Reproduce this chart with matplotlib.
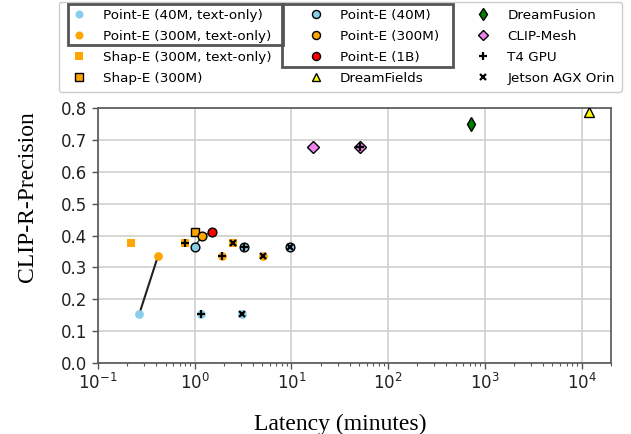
import matplotlib
matplotlib.use("Agg")
import matplotlib.pyplot as plt
from matplotlib.lines import Line2D
from matplotlib.patches import Rectangle

# ---------------- data ----------------
# latency (minutes) and CLIP-R-Precision per method; device: base / T4 GPU / Jetson AGX Orin
pe40_txt_lat = [0.267, 1.15, 3.1]
pe40_txt_clip = [0.153, 0.153, 0.153]
pe300_txt_lat = [0.418, 1.9, 5.14]
pe300_txt_clip = [0.336, 0.336, 0.336]
se300_txt_lat = [0.217, 0.79, 2.48]
se300_txt_clip = [0.377, 0.377, 0.377]
se300_lat = [1.0]
se300_clip = [0.41]
pe40_lat = [1.0, 3.22, 9.7]
pe40_clip = [0.365, 0.365, 0.365]
pe300_lat = [1.2]
pe300_clip = [0.40]
pe1b_lat = [1.51]
pe1b_clip = [0.41]
dreamfields_lat = [11800]
dreamfields_clip = [0.787]
dreamfusion_lat = [713]
dreamfusion_clip = [0.751]
clipmesh_lat = [16.6, 51.4]
clipmesh_clip = [0.679, 0.679]
# device of each point (index-aligned with the arrays above)
dev3 = ["base", "T4", "Jetson"]
dev_clipmesh = ["base", "T4"]

xticks = [1e-1, 1e0, 1e1, 1e2, 1e3, 1e4]
yticks = [0.0, 0.1, 0.2, 0.3, 0.4, 0.5, 0.6, 0.7, 0.8]

# ---------------- figure ----------------
W, H = 631, 434
fig = plt.figure(figsize=(W / 100, H / 100), dpi=100)
ax_l, ax_r, ax_t, ax_b = 98.0, 610.7, 108.3, 362.7
ax = fig.add_axes([ax_l / W, 1 - ax_b / H, (ax_r - ax_l) / W, (ax_b - ax_t) / H])

SKY = "#87CEEB"
ORG = "#FFA500"
RED = "#FF0000"
PINK = "#EE82EE"
GRN = "#008000"
YEL = "#FFFF00"

ms = 6.3
mew = 1.0

def series(lat, clip, marker, color, edge, devs=None, size=ms):
    ec = "black" if edge else color
    ax.plot(lat, clip, linestyle="none", marker=marker, markersize=size,
            markerfacecolor=color, markeredgecolor=ec,
            markeredgewidth=mew if edge else 0.0, zorder=3)
    if devs is not None:
        for x, y, d in zip(lat, clip, devs):
            if d == "T4":
                ax.plot([x], [y], linestyle="none", marker="+", markersize=5.5,
                        color="black", markeredgewidth=1.6, zorder=4)
            elif d == "Jetson":
                ax.plot([x], [y], linestyle="none", marker="x", markersize=4.2,
                        color="black", markeredgewidth=1.6, zorder=4)

# connecting lines
ax.plot([pe40_txt_lat[0], pe300_txt_lat[0]], [pe40_txt_clip[0], pe300_txt_clip[0]],
        color="#222222", lw=1.5, zorder=2)
ax.plot([pe40_lat[0], pe300_lat[0], pe1b_lat[0]], [pe40_clip[0], pe300_clip[0], pe1b_clip[0]],
        color="#444444", lw=1.2, zorder=2)

series(pe40_txt_lat, pe40_txt_clip, "o", SKY, False, dev3)
series(pe300_txt_lat, pe300_txt_clip, "o", ORG, False, dev3)
series(se300_txt_lat, se300_txt_clip, "s", ORG, False, dev3, size=5.8)
series(se300_lat, se300_clip, "s", ORG, True, size=5.8)
series(pe40_lat, pe40_clip, "o", SKY, True, dev3)
series(pe300_lat, pe300_clip, "o", ORG, True)
series(pe1b_lat, pe1b_clip, "o", RED, True)
series(dreamfields_lat, dreamfields_clip, "^", YEL, True, size=6.5)
series(dreamfusion_lat, dreamfusion_clip, "d", GRN, True, size=7)
series(clipmesh_lat, clipmesh_clip, "D", PINK, True, dev_clipmesh, size=5.8)

ax.set_xscale("log")
ax.set_xlim(1e-1, 2e4)
ax.set_ylim(0.0, 0.8)
ax.set_xticks(xticks)
ax.set_yticks(yticks)
ax.set_yticklabels([f"{v:.1f}" for v in yticks])
ax.grid(True, which="major", color="#d0d0d0", lw=1.2)
ax.set_axisbelow(True)
for s in ax.spines.values():
    s.set_color("#555555")
    s.set_linewidth(1.2)
ax.tick_params(axis="both", which="major", labelsize=12, color="#555555",
               length=4, width=1.0, labelcolor="#222222")
ax.tick_params(axis="x", which="minor", color="#555555", length=2.5, width=0.8)

serif = ["Liberation Serif", "DejaVu Serif"]
ax.set_xlabel("Latency (minutes)", family=serif, fontsize=17, va="baseline", ha="center")
ax.xaxis.set_label_coords((340 - ax_l) / (ax_r - ax_l), (ax_b - 430) / (ax_b - ax_t))
ax.set_ylabel("CLIP-R-Precision", family=serif, fontsize=17, va="baseline", ha="center")
ax.yaxis.set_label_coords((33 - ax_l) / (ax_r - ax_l), (ax_b - 196.5) / (ax_b - ax_t))

# ---------------- legend ----------------
def h(marker, color, edge, label, size=5.8, mw=1.0):
    return Line2D([], [], linestyle="none", marker=marker, markersize=size,
                  markerfacecolor=color, markeredgecolor="black" if edge else color,
                  markeredgewidth=mw if edge else 0.0, label=label)

handles = [
    h("o", SKY, False, "Point-E (40M, text-only)"),
    h("o", ORG, False, "Point-E (300M, text-only)"),
    h("s", ORG, False, "Shap-E (300M, text-only)", size=5.5),
    h("s", ORG, True, "Shap-E (300M)", size=5.5),
    h("o", SKY, True, "Point-E (40M)"),
    h("o", ORG, True, "Point-E (300M)"),
    h("o", RED, True, "Point-E (1B)"),
    h("^", YEL, True, "DreamFields", size=5.8),
    h("d", GRN, True, "DreamFusion", size=6.5),
    h("D", PINK, True, "CLIP-Mesh", size=5.5),
    Line2D([], [], linestyle="none", marker="+", markersize=5.5, color="black",
           markeredgewidth=1.6, label="T4 GPU"),
    Line2D([], [], linestyle="none", marker="x", markersize=4.2, color="black",
           markeredgewidth=1.6, label="Jetson AGX Orin"),
]
fig.legend(handles=handles, loc="upper left", bbox_to_anchor=(58.7 / W, 1 - 1.5 / H),
           ncol=3, fontsize=9.7, borderaxespad=0, labelspacing=0.6, borderpad=0.52,
           columnspacing=2.25, frameon=True, edgecolor="#cccccc", framealpha=1.0)

# group boxes around legend entries
for (x0, y0, x1, y1) in [(67.7, 4.0, 282.7, 45.0), (282.3, 4.0, 453.3, 66.7)]:
    fig.add_artist(Rectangle((x0 / W, 1 - y1 / H), (x1 - x0) / W, (y1 - y0) / H,
                             transform=fig.transFigure, fill=False,
                             edgecolor="#555555", lw=2.0, zorder=10))

fig.savefig("out.png", dpi=100)
